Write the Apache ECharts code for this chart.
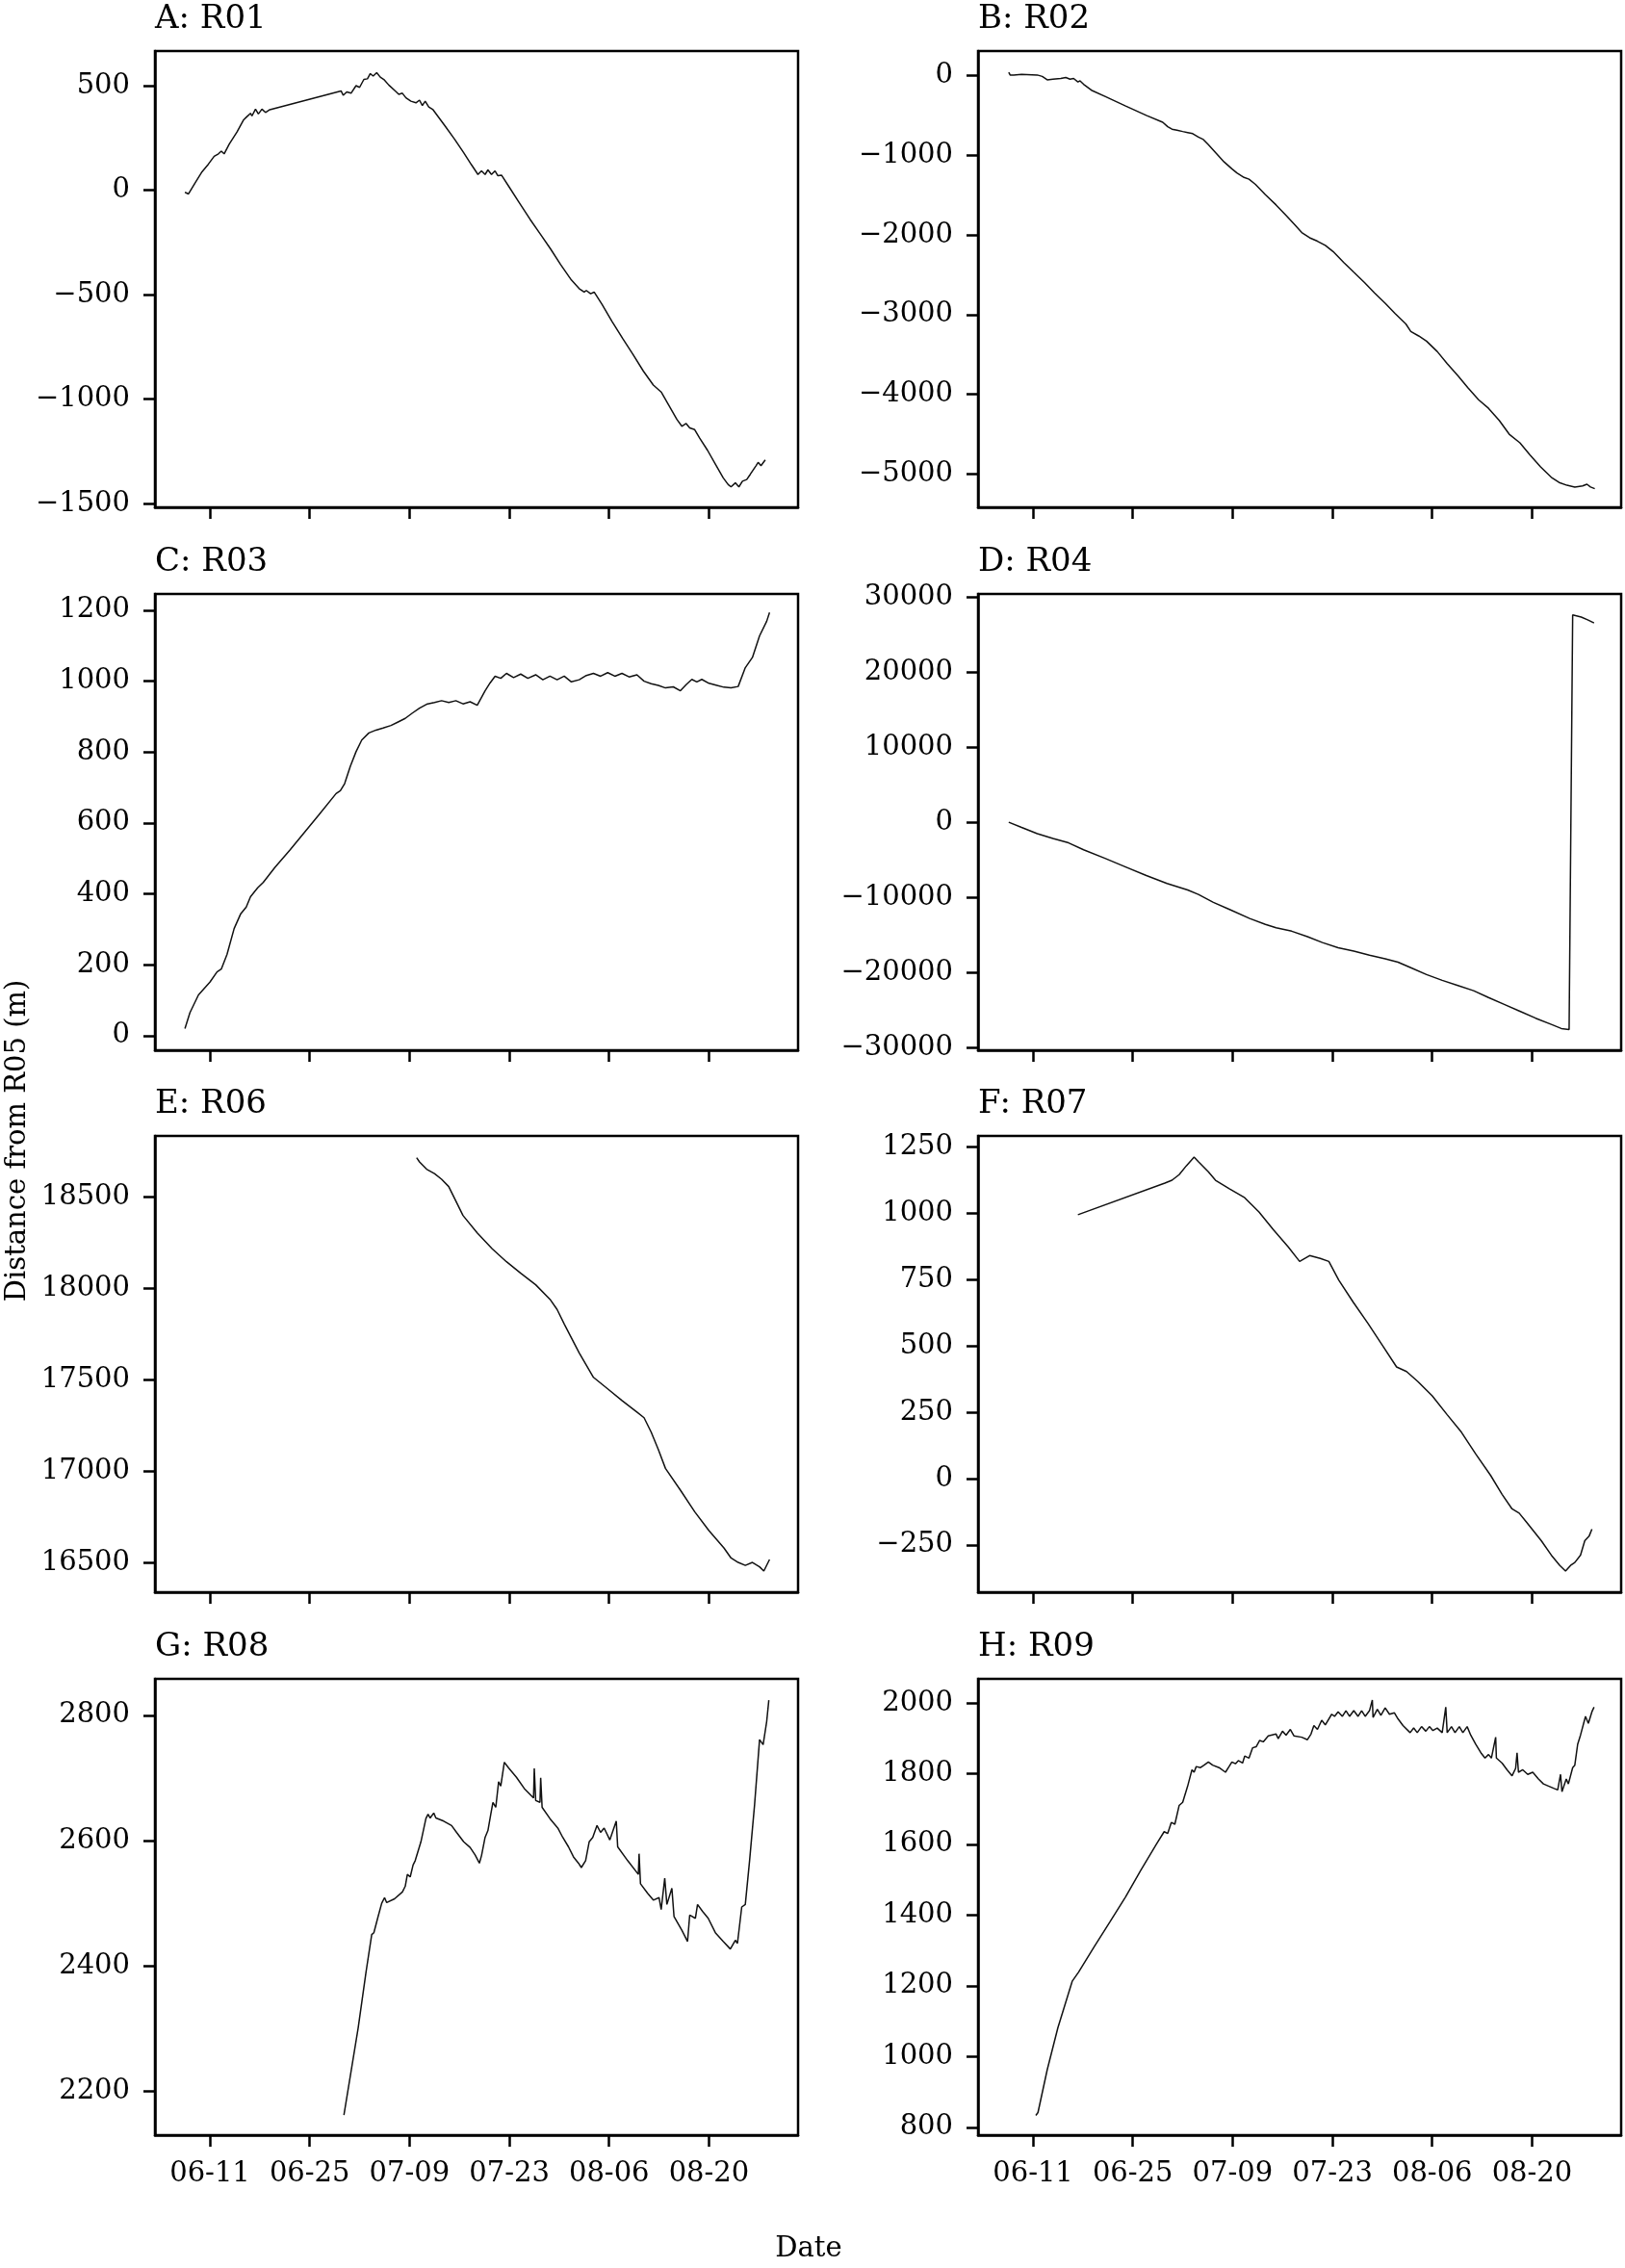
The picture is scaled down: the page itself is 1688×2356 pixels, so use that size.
<!DOCTYPE html>
<html>
<head>
<meta charset="utf-8">
<script src="https://cdn.jsdelivr.net/npm/echarts@6/dist/echarts.min.js"></script>
<style>
  html, body { margin: 0; padding: 0; background: #fff; }
  #chart { width: 1688px; height: 2356px; }
</style>
</head>
<body>
<div id="chart"></div>
<script>
// x = day number, June 1 = 1 (so 06-11 = 11, 07-09 = 39 ...)
var dateTicks = [11, 25, 39, 53, 67, 81];

// distance from R05 (m), [day, value]
var r01 = [[7.5,-10],[8.0,-18],[9.0,39],[9.9,88],[10.8,125],[11.6,162],[12.2,174],[12.6,187],[13.0,174],[13.7,220],[14.8,278],[15.7,335],[16.2,352],[16.7,368],[16.9,355],[17.4,388],[17.8,365],[18.3,388],[18.8,372],[19.4,385],[29.4,475],[29.7,454],[30.2,470],[30.8,464],[31.5,500],[32.0,492],[32.6,530],[33.1,533],[33.5,558],[33.9,546],[34.4,562],[34.9,541],[35.4,530],[36.1,503],[37.0,475],[37.5,459],[38.0,464],[38.5,442],[39.2,426],[39.9,418],[40.4,431],[40.8,405],[41.2,426],[41.7,398],[42.3,385],[43.9,311],[45.3,245],[46.6,179],[47.7,121],[48.6,75],[49.1,92],[49.6,75],[50.0,97],[50.5,75],[51.0,92],[51.4,69],[51.9,72],[53.0,14],[54.4,-60],[55.9,-139],[57.3,-208],[58.8,-282],[60.2,-356],[61.7,-430],[62.8,-471],[63.5,-488],[63.8,-480],[64.4,-496],[64.9,-488],[66.0,-546],[67.4,-628],[68.9,-710],[70.3,-784],[71.8,-866],[73.2,-933],[74.3,-966],[75.4,-1031],[76.5,-1097],[77.2,-1130],[77.8,-1117],[78.3,-1138],[79.0,-1146],[79.7,-1187],[80.8,-1245],[81.9,-1311],[83.0,-1377],[83.7,-1409],[84.1,-1420],[84.7,-1401],[85.2,-1420],[85.7,-1393],[86.3,-1385],[86.8,-1360],[87.6,-1319],[87.9,-1303],[88.3,-1319],[88.9,-1291]];
var r02 = [[7.6,43],[7.8,9],[8.3,9],[9.4,17],[11.6,9],[12.3,-9],[13.0,-52],[13.8,-43],[14.9,-35],[15.6,-22],[16.2,-43],[16.7,-35],[17.3,-78],[17.6,-65],[18.1,-108],[19.2,-182],[21.1,-260],[24.0,-381],[26.9,-498],[29.2,-584],[29.9,-641],[30.5,-671],[31.2,-684],[32.0,-701],[32.7,-714],[33.4,-727],[34.2,-771],[34.9,-801],[35.6,-866],[36.7,-974],[37.8,-1082],[38.9,-1169],[39.6,-1221],[40.6,-1277],[41.3,-1299],[42.2,-1364],[43.6,-1494],[45.1,-1623],[46.5,-1753],[47.6,-1861],[48.7,-1970],[49.8,-2035],[50.9,-2078],[52.0,-2130],[53.1,-2208],[54.6,-2346],[56.0,-2468],[57.5,-2597],[58.9,-2727],[60.4,-2857],[61.8,-2987],[63.3,-3117],[64.0,-3212],[65.1,-3268],[66.2,-3333],[67.7,-3463],[69.1,-3615],[70.6,-3766],[72.0,-3918],[73.5,-4069],[74.9,-4177],[76.4,-4329],[77.8,-4502],[79.3,-4610],[80.7,-4762],[82.2,-4913],[83.7,-5043],[84.8,-5108],[85.9,-5143],[87.0,-5165],[88.1,-5151],[88.7,-5130],[89.2,-5165],[89.8,-5186]];
var r03 = [[7.5,20],[8.2,65],[9.4,115],[11.0,151],[12.0,180],[12.6,188],[13.4,229],[14.4,302],[15.3,343],[16.1,363],[16.7,392],[17.7,417],[18.5,433],[20.1,474],[22.2,523],[24.2,572],[26.2,621],[28.7,683],[29.3,691],[29.9,711],[30.7,760],[31.5,801],[32.3,834],[33.3,854],[34.3,862],[35.3,868],[36.4,875],[37.4,885],[38.4,895],[39.4,910],[40.4,924],[41.4,935],[42.5,940],[43.5,945],[44.5,940],[45.5,945],[46.5,936],[47.5,942],[48.5,932],[49.6,973],[50.3,995],[51.0,1014],[51.8,1008],[52.6,1022],[53.6,1010],[54.6,1020],[55.6,1008],[56.7,1018],[57.7,1004],[58.7,1014],[59.7,1004],[60.7,1014],[61.7,998],[62.8,1004],[63.8,1016],[64.8,1022],[65.8,1014],[66.8,1024],[67.8,1014],[68.8,1022],[69.8,1012],[70.9,1018],[71.9,1000],[72.9,993],[73.9,988],[74.9,981],[76.0,984],[77.0,973],[77.8,990],[78.6,1005],[79.3,998],[80.0,1005],[81.0,994],[82.0,989],[83.1,983],[84.1,981],[85.1,985],[86.1,1038],[87.1,1067],[88.1,1128],[89.1,1169],[89.5,1194]];
var r04 = [[7.6,0],[9.4,-687],[11.6,-1511],[13.8,-2153],[16.0,-2748],[18.1,-3664],[21.1,-4809],[24.0,-5954],[26.9,-7099],[29.8,-8152],[32.7,-9023],[34.2,-9618],[36.3,-10671],[38.5,-11587],[41.4,-12824],[43.6,-13603],[45.1,-14061],[47.3,-14519],[49.5,-15251],[51.6,-16030],[53.8,-16717],[56.0,-17175],[58.2,-17725],[60.4,-18183],[62.2,-18641],[64.0,-19373],[66.2,-20289],[68.4,-21068],[70.6,-21755],[72.8,-22442],[74.9,-23358],[77.1,-24274],[79.3,-25190],[81.5,-26106],[83.7,-26930],[85.1,-27480],[86.2,-27617],[86.7,27617],[87.9,27343],[88.8,26977],[89.7,26564]];
var r06 = [[40.0,18713],[40.4,18690],[41.4,18650],[42.5,18626],[43.5,18595],[44.5,18555],[45.5,18476],[46.5,18397],[48.5,18302],[50.6,18215],[52.6,18144],[54.6,18081],[56.7,18018],[58.7,17939],[59.7,17883],[60.7,17804],[62.8,17646],[64.8,17512],[66.8,17449],[68.8,17385],[70.9,17322],[71.9,17291],[72.9,17212],[73.9,17117],[74.9,17014],[77.0,16895],[79.0,16777],[81.0,16674],[83.1,16579],[84.1,16524],[85.1,16500],[86.1,16484],[87.1,16500],[88.1,16476],[88.7,16453],[89.5,16516]];
var r07 = [[17.3,995],[29.5,1114],[30.5,1125],[31.5,1146],[32.5,1179],[33.6,1212],[34.2,1195],[35.6,1157],[36.6,1125],[38.6,1092],[40.7,1059],[42.7,1005],[44.7,939],[46.8,874],[48.4,819],[49.8,841],[51.3,830],[52.5,819],[53.9,748],[55.9,666],[58.0,585],[60.0,503],[62.0,421],[63.4,404],[65.0,366],[67.0,312],[69.1,241],[71.1,175],[73.1,93],[75.2,12],[76.8,-59],[78.2,-114],[79.2,-130],[80.2,-163],[82.3,-234],[83.7,-288],[84.9,-327],[85.7,-348],[86.4,-327],[87.0,-316],[87.8,-288],[88.4,-234],[89.0,-217],[89.4,-190]];
var r08 = [[29.8,2162],[31.8,2301],[32.9,2390],[33.7,2450],[34.0,2453],[34.6,2479],[35.1,2500],[35.5,2509],[35.8,2501],[36.9,2507],[38.0,2518],[38.4,2527],[38.7,2546],[39.1,2542],[39.5,2561],[39.8,2568],[40.6,2598],[41.3,2635],[41.6,2642],[41.9,2636],[42.4,2644],[42.7,2636],[43.8,2631],[44.9,2624],[45.6,2613],[46.6,2598],[47.5,2589],[48.2,2577],[48.8,2564],[49.1,2576],[49.6,2605],[50.0,2616],[50.4,2642],[50.7,2661],[51.1,2653],[51.5,2694],[51.8,2687],[52.3,2725],[52.9,2716],[54.0,2701],[55.1,2683],[56.4,2668],[56.5,2715],[56.7,2664],[57.3,2661],[57.4,2700],[57.6,2653],[58.7,2635],[59.8,2620],[60.5,2605],[61.3,2590],[62.0,2574],[62.7,2564],[63.1,2557],[63.7,2568],[64.2,2598],[64.7,2605],[65.3,2624],[65.8,2613],[66.3,2620],[67.1,2601],[68.0,2631],[68.2,2590],[69.6,2568],[71.1,2546],[71.2,2579],[71.4,2531],[72.4,2516],[73.2,2505],[74.0,2509],[74.3,2490],[74.8,2540],[75.1,2498],[75.8,2524],[76.1,2479],[77.2,2457],[78.0,2439],[78.3,2481],[79.1,2476],[79.4,2498],[80.1,2487],[80.9,2476],[81.9,2453],[83.0,2439],[84.0,2427],[84.7,2441],[85.0,2436],[85.6,2494],[86.1,2498],[86.7,2568],[87.4,2657],[88.1,2761],[88.6,2753],[89.1,2790],[89.4,2824]];
var r09 = [[11.4,834],[11.7,842],[13.0,963],[14.5,1082],[16.0,1180],[16.5,1213],[17.4,1239],[19.6,1311],[21.8,1381],[24.0,1452],[26.1,1526],[28.3,1600],[29.4,1636],[29.9,1631],[30.4,1662],[30.9,1657],[31.5,1710],[32.0,1719],[32.7,1765],[33.3,1811],[33.6,1804],[33.9,1820],[34.5,1817],[35.0,1824],[35.6,1833],[36.2,1824],[37.1,1817],[38.0,1804],[38.5,1820],[38.9,1833],[39.4,1828],[39.8,1837],[40.4,1830],[40.7,1850],[41.3,1844],[41.8,1873],[42.3,1876],[42.8,1894],[43.3,1890],[44.0,1907],[45.1,1912],[45.4,1899],[46.0,1920],[46.5,1909],[47.1,1925],[47.6,1907],[48.7,1903],[49.5,1896],[50.0,1912],[50.4,1936],[50.9,1925],[51.5,1951],[52.0,1938],[52.9,1968],[53.3,1962],[53.8,1975],[54.4,1962],[54.9,1978],[55.4,1962],[56.0,1978],[56.6,1962],[57.1,1978],[57.6,1962],[58.2,1978],[58.6,2008],[58.7,1959],[59.3,1982],[59.8,1965],[60.4,1986],[61.0,1968],[61.7,1972],[62.2,1955],[62.9,1936],[63.9,1916],[64.4,1929],[64.9,1916],[65.5,1933],[66.1,1920],[66.6,1933],[67.1,1922],[67.7,1929],[68.4,1916],[68.9,1988],[69.1,1916],[69.7,1933],[70.2,1916],[70.8,1933],[71.3,1916],[71.9,1933],[72.4,1909],[73.1,1883],[73.9,1857],[74.4,1844],[74.9,1854],[75.3,1844],[75.9,1903],[76.0,1844],[76.8,1830],[77.5,1811],[78.2,1794],[78.7,1815],[78.9,1859],[79.1,1804],[79.7,1811],[80.4,1798],[81.1,1804],[81.9,1785],[82.6,1771],[83.3,1765],[84.1,1758],[84.6,1754],[85.0,1798],[85.2,1749],[85.8,1785],[86.1,1771],[86.7,1817],[87.0,1824],[87.4,1883],[87.8,1909],[88.5,1962],[88.9,1942],[89.4,1975],[89.7,1988]];

// y tick values of each panel
var ticksA = [-1500, -1000, -500, 0, 500];
var ticksB = [-5000, -4000, -3000, -2000, -1000, 0];
var ticksC = [0, 200, 400, 600, 800, 1000, 1200];
var ticksD = [-30000, -20000, -10000, 0, 10000, 20000, 30000];
var ticksE = [16500, 17000, 17500, 18000, 18500];
var ticksF = [-250, 0, 250, 500, 750, 1000, 1250];
var ticksG = [2200, 2400, 2600, 2800];
var ticksH = [800, 1000, 1200, 1400, 1600, 1800, 2000];

var panels = [
  { title: 'A: R01', data: r01, ticks: ticksA, min: -1518, max: 666 },
  { title: 'B: R02', data: r02, ticks: ticksB, min: -5420, max: 310 },
  { title: 'C: R03', data: r03, ticks: ticksC, min: -41, max: 1246 },
  { title: 'D: R04', data: r04, ticks: ticksD, min: -30380, max: 30420 },
  { title: 'E: R06', data: r06, ticks: ticksE, min: 16337, max: 18832 },
  { title: 'F: R07', data: r07, ticks: ticksF, min: -428, max: 1292 },
  { title: 'G: R08', data: r08, ticks: ticksG, min: 2130, max: 2858 },
  { title: 'H: R09', data: r09, ticks: ticksH, min: 778, max: 2068 }
];

var FONT = 'DejaVu Serif';
var colLeft = [161, 1016];
var rowTop = [53, 617, 1180, 1744];
var W = 668, H = 474;

function dayLabel(d) {
  var m, dd;
  if (d <= 30) { m = '06'; dd = d; }
  else if (d <= 61) { m = '07'; dd = d - 30; }
  else { m = '08'; dd = d - 61; }
  return m + '-' + (dd < 10 ? '0' + dd : dd);
}

var myChart = echarts.init(document.getElementById('chart'));

var grids = [], xAxes = [], yAxes = [], series = [], titles = [];
panels.forEach(function (p, i) {
  var row = Math.floor(i / 2), col = i % 2;
  grids.push({
    left: colLeft[col], top: rowTop[row], width: W, height: H,
    show: true, borderColor: '#000', borderWidth: 2.5, backgroundColor: '#fff'
  });
  titles.push({
    text: p.title, left: colLeft[col], top: rowTop[row] - 50, padding: 0,
    textStyle: { fontFamily: FONT, fontSize: 34, fontWeight: 'normal', color: '#000' }
  });
  xAxes.push({
    type: 'value', gridIndex: i, min: 3.3, max: 93.5,
    splitLine: { show: false },
    axisLine: { show: true, onZero: false, lineStyle: { color: '#000', width: 2.5 } },
    axisTick: { show: true, customValues: dateTicks, length: 12, lineStyle: { color: '#000', width: 2.5 } },
    axisLabel: {
      show: row === 3, customValues: dateTicks, margin: 26,
      fontFamily: FONT, fontSize: 29, color: '#000',
      formatter: function (v) { return dayLabel(Math.round(v)); }
    }
  });
  yAxes.push({
    type: 'value', gridIndex: i, min: p.min, max: p.max,
    splitLine: { show: false },
    axisLine: { show: true, onZero: false, lineStyle: { color: '#000', width: 2.5 } },
    axisTick: { show: true, customValues: p.ticks, length: 12, lineStyle: { color: '#000', width: 2.5 } },
    axisLabel: {
      customValues: p.ticks, margin: 26,
      fontFamily: FONT, fontSize: 29, color: '#000',
      formatter: function (v) { return String(v).replace('-', '\u2212'); }
    }
  });
  series.push({
    type: 'line', xAxisIndex: i, yAxisIndex: i, data: p.data,
    showSymbol: false, symbol: 'none',
    lineStyle: { color: '#111', width: 1.5 }
  });
});

var option = {
  backgroundColor: '#fff',
  animation: false,
  title: titles,
  grid: grids,
  xAxis: xAxes,
  yAxis: yAxes,
  series: series,
  graphic: [
    {
      type: 'text', x: 18, y: 1185, rotation: Math.PI / 2,
      style: { text: 'Distance from R05 (m)', font: '29px "DejaVu Serif"', fill: '#000', align: 'center', verticalAlign: 'middle' }
    },
    {
      type: 'text', x: 840, y: 2336,
      style: { text: 'Date', font: '29px "DejaVu Serif"', fill: '#000', align: 'center', verticalAlign: 'middle' }
    }
  ]
};
myChart.setOption(option, true);
</script>
</body>
</html>
